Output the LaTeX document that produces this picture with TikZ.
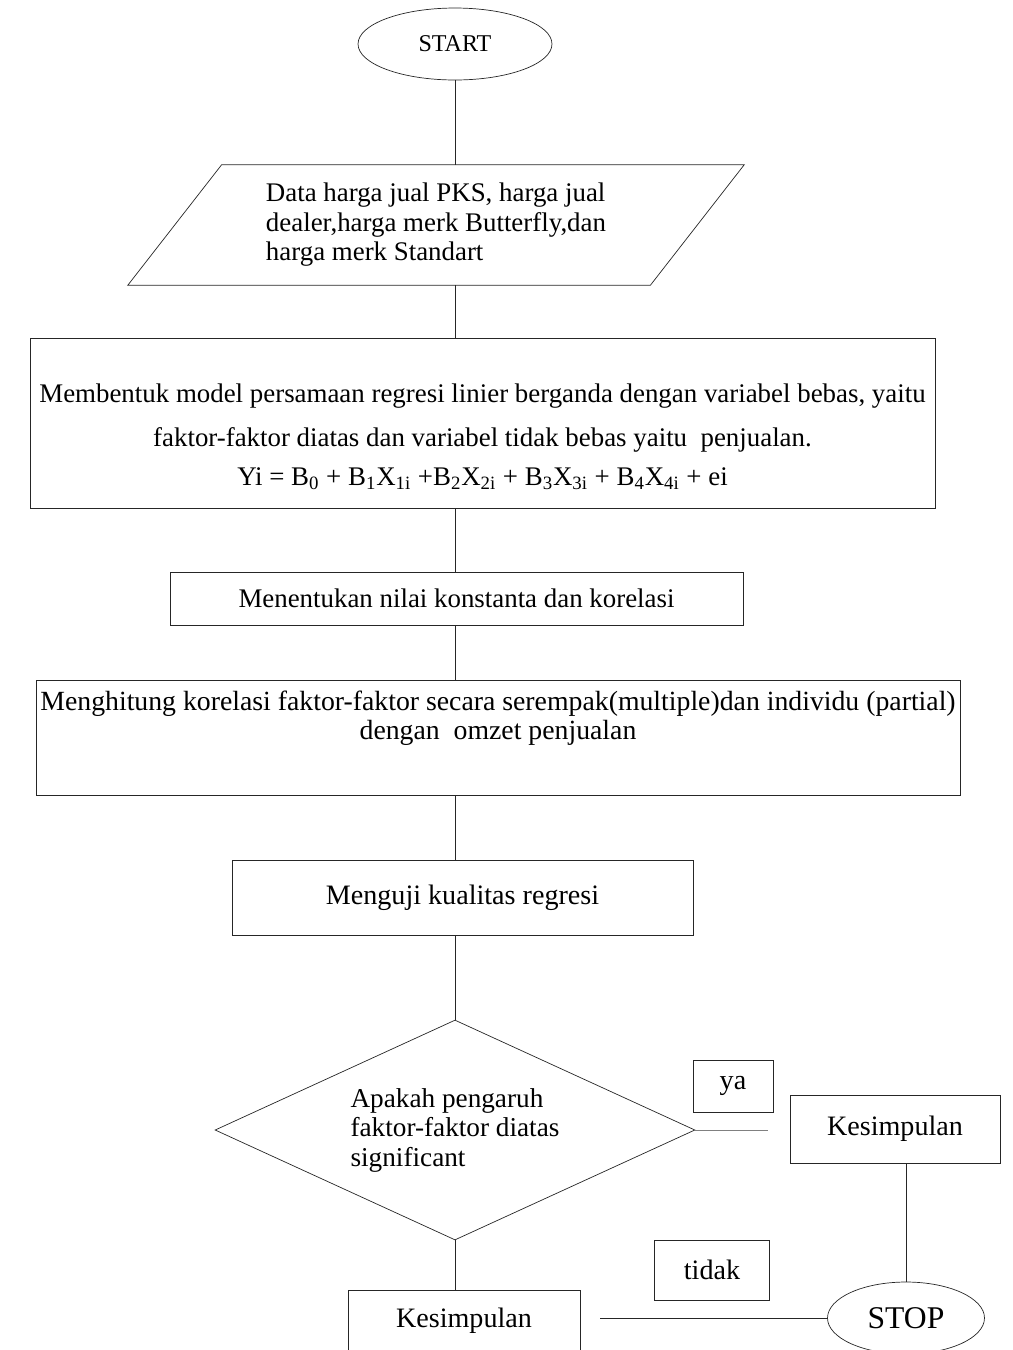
\documentclass[tikz,border=0pt]{standalone}
\usepackage{fontspec}
\setmainfont{Liberation Serif}
\usetikzlibrary{shapes.geometric, calc}
\tikzset{
    terminal/.style={ellipse, draw=black!85, thin, minimum height=1.44cm, inner sep=0pt},
    proses/.style={rectangle, draw=black!85, thin, inner sep=2pt, align=center},
    keputusan/.style={diamond, draw=black!85, thin, shape aspect=2.2, minimum width=9.6cm, minimum height=4.4cm, inner sep=0pt, align=left},
    garis/.style={draw=black!85, thin},
    besar/.style={font=\fontsize{16}{18}\selectfont}
}

\begin{document}
\begin{tikzpicture}[x=0.02cm, y=-0.02cm, font=\fontsize{15.3}{16.8}\selectfont]
    \useasboundingbox (0,0) rectangle (1013,1350);
    \node[terminal, minimum width=3.88cm, font=\fontsize{13.7}{15}\selectfont] (start) at (455,44) {START};
    \node[minimum width=10.44cm, minimum height=2.4cm, inner sep=0pt, align=left] (data) at (436,225) {Data harga jual PKS, harga jual\\ dealer,harga merk Butterfly,dan\\ harga merk Standart};
    \draw[garis] ([xshift=0.94cm]data.north west) -- ([xshift=0.94cm]data.north east) -- ([xshift=-0.94cm]data.south east) -- ([xshift=-0.94cm]data.south west) -- cycle; % jajar genjang
    \node[proses, minimum width=18.1cm, minimum height=3.4cm] (model) at (482.5,423) {\rule{0pt}{26pt}Membentuk model persamaan regresi linier berganda dengan variabel bebas, yaitu\\[8.5pt] faktor-faktor diatas dan variabel tidak bebas yaitu~ penjualan.\\[5pt] Yi = B\textsubscript{0} + B\textsubscript{1}X\textsubscript{1i} +B\textsubscript{2}X\textsubscript{2i} + B\textsubscript{3}X\textsubscript{3i} + B\textsubscript{4}X\textsubscript{4i} + ei};
    \node[proses, minimum width=11.46cm, minimum height=1.06cm] (konstanta) at (456.5,598.5) {Menentukan nilai konstanta dan korelasi};
    \node[proses, minimum width=18.48cm, minimum height=2.3cm, font=\fontsize{15.8}{16.8}\selectfont] (korelasi) at (498,737.5) {Menghitung korelasi faktor-faktor secara serempak(multiple)dan individu (partial)\\ dengan~ omzet penjualan\\[8.5pt]\mbox{}};
    \node[proses, besar, minimum width=9.22cm, minimum height=1.5cm] (uji) at (462.5,897.5) {Menguji kualitas regresi};
    \node[keputusan, font=\fontsize{15.5}{16.8}\selectfont] (putusan) at (455,1130) {Apakah pengaruh\\ faktor-faktor diatas\\ significant};
    \node[proses, besar, minimum width=1.6cm, minimum height=1.04cm] (ya) at (733,1086) {ya};
    \node[proses, besar, minimum width=4.2cm, minimum height=1.36cm] (kesimpulanA) at (895,1129) {Kesimpulan};
    \node[proses, besar, minimum width=2.3cm, minimum height=1.2cm] (tidak) at (712,1270) {tidak};
    \node[proses, besar, minimum width=4.64cm, minimum height=1.24cm] (kesimpulanB) at (464,1321) {Kesimpulan};
    \node[terminal, minimum width=3.14cm, font=\fontsize{18}{20}\selectfont] (stop) at (906,1318) {STOP};
    % garis penghubung
    \draw[garis] (start.south) -- (start.south |- data.north);
    \draw[garis] (start.south |- data.south) -- (start.south |- model.north);
    \draw[garis] (start.south |- model.south) -- (start.south |- konstanta.north);
    \draw[garis] (start.south |- konstanta.south) -- (start.south |- korelasi.north);
    \draw[garis] (start.south |- korelasi.south) -- (start.south |- uji.north);
    \draw[garis] (start.south |- uji.south) -- (putusan.north);
    \draw[garis] (putusan.south) -- (putusan.south |- kesimpulanB.north);
    \draw[garis, draw=black!50, shorten >=0.44cm] (putusan.east) -- (putusan.east -| kesimpulanA.west);
    \draw[garis] (stop.north |- kesimpulanA.south) -- (stop.north);
    \draw[garis, shorten <=0.4cm] (kesimpulanB.east |- stop.west) -- (stop.west);
\end{tikzpicture}
\end{document}
